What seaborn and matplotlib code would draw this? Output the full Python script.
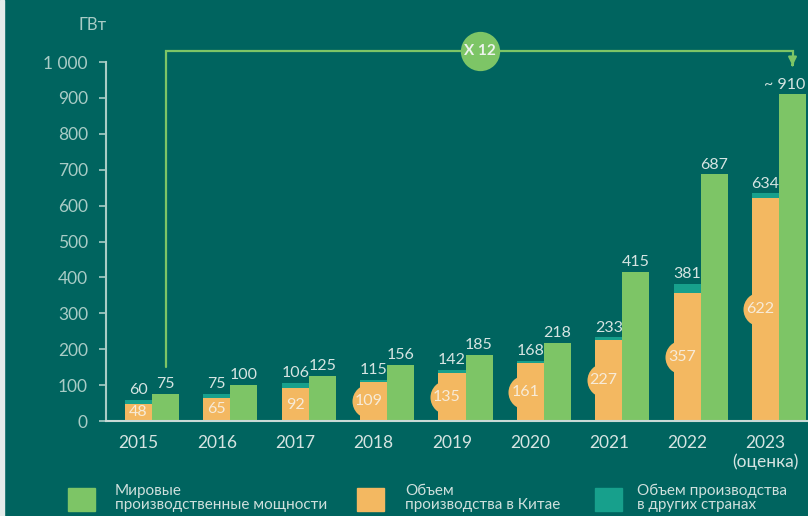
import numpy as np
import pandas as pd
import matplotlib
matplotlib.use('Agg')
import matplotlib.pyplot as plt
from matplotlib.patches import Rectangle
import seaborn as sns

# data (GW)
years = ["2015", "2016", "2017", "2018", "2019", "2020", "2021", "2022", "2023\n(оценка)"]
world_capacity = [75, 100, 125, 156, 185, 218, 415, 687, 910]
total_output = [60, 75, 106, 115, 142, 168, 233, 381, 634]
china_output = [48, 65, 92, 109, 135, 161, 227, 357, 622]
world_labels = ["75", "100", "125", "156", "185", "218", "415", "687", "~ 910"]
legend_labels = ["Мировые\nпроизводственные мощности",
                 "Объем\nпроизводства в Китае",
                 "Объем производства\nв других странах"]
growth_label = "X 12"

BG = "#00645F"
GREEN = "#7DC566"
ORANGE = "#F3B861"
TEAL = "#17A08C"
TXT = "#D6E4E2"
TICK = "#A9CCC6"

sns.set_theme(style="white")
plt.rcParams['font.family'] = ['Lato', 'DejaVu Sans']

fig = plt.figure(figsize=(8.08, 5.16), dpi=100, facecolor=BG)
ax = fig.add_axes([0.1312, 0.184, 0.8688, 0.7306])
ax.set_facecolor(BG)

df = pd.DataFrame({
    "year": years * 2,
    "value": total_output + world_capacity,
    "series": ["total"] * len(years) + ["world"] * len(years),
})
W = 0.69
sns.barplot(data=df, x="year", y="value", hue="series", hue_order=["total", "world"],
            palette=[TEAL, GREEN], width=W, saturation=1, legend=False, ax=ax,
            linewidth=0, edgecolor="none", zorder=2)

x = np.arange(len(years))
half = W / 4
ax.bar(x - half, china_output, width=W / 2, color=ORANGE, zorder=3, linewidth=0)

# value labels
for i in range(len(years)):
    ax.annotate(str(total_output[i]), (x[i] - half, total_output[i]), xytext=(0, 2),
                textcoords="offset points", ha="center", va="bottom", fontsize=11.5, color=TXT)
    shift = -6 if i == len(years) - 1 else 0
    ax.annotate(world_labels[i], (x[i] + half, world_capacity[i]), xytext=(shift, 2),
                textcoords="offset points", ha="center", va="bottom", fontsize=11.5, color=TXT)
    cx = x[i] - half
    if china_output[i] > 100:
        cx -= 0.065
        ax.scatter([cx], [china_output[i] / 2], s=600, color=ORANGE, zorder=4, linewidths=0)
    ax.text(cx, china_output[i] / 2, str(china_output[i]), ha="center", va="center",
            fontsize=11.5, color="#F7EBD8", zorder=5)

# growth arrow
top = 1030
x0, x1 = x[0] + half, x[-1] + half
ax.plot([x0, x0, x1, x1], [150, top, top, 995], color=GREEN, lw=1.6, zorder=1,
        solid_joinstyle="miter", clip_on=False)
ax.annotate("", xy=(x1, 982), xytext=(x1, 1000),
            arrowprops=dict(arrowstyle="-|>", color=GREEN, lw=1.6, mutation_scale=12),
            annotation_clip=False)
ax.scatter([4.18], [top], s=800, color=GREEN, zorder=6, clip_on=False, linewidths=0)
ax.text(4.18, top, growth_label, ha="center", va="center", fontsize=11, fontweight="bold",
        color="#EEF3EE", zorder=7)

ax.set_xlim(-0.587, 8.37)
ax.set_ylim(0, 1050)
ax.set_yticks(range(0, 1001, 100))
ax.set_yticklabels(["0", "100", "200", "300", "400", "500", "600", "700", "800", "900", "1 000"])
ax.set_xticks(x - half)
ax.set_xticklabels(years)
ax.set_xlabel("")
ax.set_ylabel("")
ax.tick_params(axis="y", length=5, width=1.2, color=TICK, labelcolor=TICK, labelsize=12.5, pad=8, left=True)
ax.tick_params(axis="x", length=0, labelcolor=TXT, labelsize=12.5, pad=10)
for s in ["top", "right"]:
    ax.spines[s].set_visible(False)
ax.spines["left"].set_bounds(0, 1000)
ax.spines["left"].set_color(TICK)
ax.spines["left"].set_linewidth(1.5)
ax.spines["bottom"].set_color("#C9DAD6")
ax.spines["bottom"].set_linewidth(1.5)
ax.spines["left"].set_zorder(5)
ax.spines["bottom"].set_zorder(5)

fig.text(93 / 808, 1 - 25 / 516, "ГВт", ha="center", va="center", fontsize=12, color=TICK)

# legend
fig.patches.append(Rectangle((0, 0), 4 / 808, 1, transform=fig.transFigure, color="#E3ECEA", zorder=0))
for px, tx, col, lab in [(68, 115, GREEN, legend_labels[0]), (357, 405, ORANGE, legend_labels[1]),
                         (595, 637, TEAL, legend_labels[2])]:
    fig.patches.append(Rectangle((px / 808, 1 - 511 / 516), 27 / 808, 23 / 516,
                                 transform=fig.transFigure, color=col))
    fig.text(tx / 808, 1 - 498 / 516, lab, ha="left", va="center", fontsize=11,
             color="#CFE0DD", linespacing=0.95)

fig.savefig("out.png", dpi=100, facecolor=BG)
